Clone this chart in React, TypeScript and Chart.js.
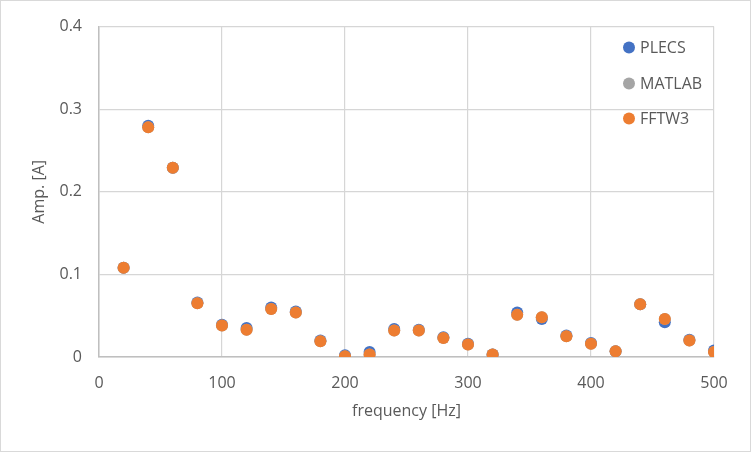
import React, { useEffect, useRef } from "react";
import { Chart, registerables } from "chart.js";

Chart.register(...registerables);

const frequencies = [20, 40, 60, 80, 100, 120, 140, 160, 180, 200, 220, 240, 260, 280, 300, 320, 340, 360, 380, 400, 420, 440, 460, 480, 500];
const plecs = [0.108, 0.280, 0.229, 0.066, 0.039, 0.035, 0.060, 0.055, 0.020, 0.002, 0.006, 0.034, 0.033, 0.024, 0.016, 0.003, 0.054, 0.046, 0.026, 0.017, 0.007, 0.064, 0.042, 0.021, 0.008];
const matlab = [0.108, 0.278, 0.229, 0.065, 0.038, 0.033, 0.058, 0.054, 0.019, 0.001, 0.003, 0.032, 0.032, 0.023, 0.015, 0.003, 0.051, 0.048, 0.025, 0.016, 0.007, 0.064, 0.046, 0.020, 0.006];
const fftw3 = [0.108, 0.278, 0.229, 0.065, 0.038, 0.033, 0.058, 0.054, 0.019, 0.001, 0.003, 0.032, 0.032, 0.023, 0.015, 0.003, 0.051, 0.048, 0.025, 0.016, 0.007, 0.064, 0.046, 0.020, 0.006];

const seriesNames = ["PLECS", "MATLAB", "FFTW3"];
const seriesColors = ["#4472C4", "#A5A5A5", "#ED7D31"];
const xTitle = "frequency [Hz]";
const yTitle = "Amp. [A]";

const FONT = "'Open Sans', sans-serif";
const TEXT = "#595959";

const toPoints = (ys: number[]) => frequencies.map((x, i) => ({ x, y: ys[i] }));

const frameAndLegend = {
  id: "frameAndLegend",
  afterDraw(chart: any) {
    const { ctx, chartArea } = chart;
    ctx.save();
    ctx.strokeStyle = "#d9d9d9";
    ctx.lineWidth = 1;
    ctx.strokeRect(0.5, 0.5, chart.width - 1, chart.height - 1);
    const lx = chartArea.right - 85;
    const ys = [chartArea.top + 21, chartArea.top + 57, chartArea.top + 92];
    ctx.font = `16px ${FONT}`;
    ctx.textBaseline = "middle";
    ctx.textAlign = "left";
    seriesNames.forEach((name, i) => {
      ctx.fillStyle = seriesColors[i];
      ctx.beginPath();
      ctx.arc(lx, ys[i], 6, 0, Math.PI * 2);
      ctx.fill();
      ctx.fillStyle = TEXT;
      ctx.fillText(name, lx + 11, ys[i] + 1);
    });
    ctx.restore();
  },
};

export default function App() {
  const ref = useRef<HTMLCanvasElement>(null);
  useEffect(() => {
    document.body.style.margin = "0";
    const series = [plecs, matlab, fftw3];
    const chart = new Chart(ref.current!, {
      type: "scatter",
      data: {
        datasets: series.map((s, i) => ({
          label: seriesNames[i],
          data: toPoints(s),
          backgroundColor: seriesColors[i],
          borderColor: seriesColors[i],
          borderWidth: 0,
          pointRadius: 6,
          pointHoverRadius: 6,
          order: series.length - i,
        })),
      },
      options: {
        animation: false,
        responsive: false,
        devicePixelRatio: 1,
        layout: { padding: { left: 0, right: 37, top: 24, bottom: 0 } },
        plugins: { legend: { display: false }, tooltip: { enabled: false } },
        scales: {
          x: {
            type: "linear",
            min: 0,
            max: 500,
            ticks: { stepSize: 100, padding: 17, color: TEXT, font: { family: FONT, size: 16 } },
            grid: { color: "#d6d6d6", lineWidth: 1.2, drawTicks: false },
            border: { color: "#bfbfbf", width: 1.5 },
            title: { display: true, text: xTitle, color: TEXT, font: { family: FONT, size: 16 }, padding: { top: 0, bottom: 31 } },
            afterFit: (s: any) => { s.height = 95; },
          },
          y: {
            type: "linear",
            min: 0,
            max: 0.4,
            ticks: {
              stepSize: 0.1,
              padding: 17,
              color: TEXT,
              font: { family: FONT, size: 16 },
              callback: (v: any) => (v === 0 ? "0" : Number(v).toFixed(1)),
            },
            grid: { color: "#d6d6d6", lineWidth: 1.2, drawTicks: false },
            border: { color: "#bfbfbf", width: 1.5 },
            title: { display: true, text: yTitle, color: TEXT, font: { family: FONT, size: 16 }, padding: { top: 30, bottom: 0 } },
            afterFit: (s: any) => { s.width = 99; },
          },
        },
      },
      plugins: [frameAndLegend],
    });
    return () => chart.destroy();
  }, []);
  return <canvas ref={ref} width={751} height={452} />;
}
